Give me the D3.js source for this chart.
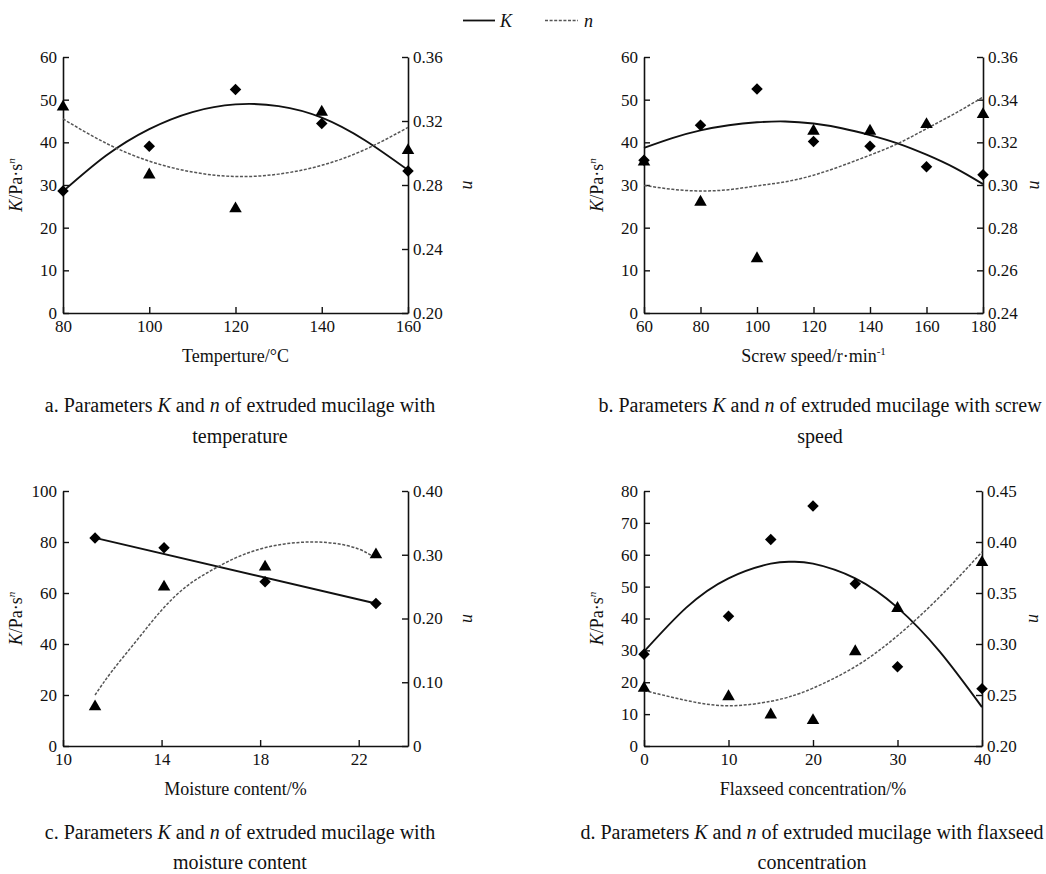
<!DOCTYPE html>
<html><head><meta charset="utf-8">
<script src="https://cdn.jsdelivr.net/npm/d3@7"></script>
<style>
html,body{margin:0;padding:0;background:#fff;}
svg text{font-family:"Liberation Serif","Times New Roman",serif;fill:#111;}
</style></head>
<body><svg id="c" width="1046" height="874"></svg>
<script>
// ---------- Panel a: temperature ----------
const xA = [80, 100, 120, 140, 160];
const kA = [28.6, 39.1, 52.4, 44.4, 33.3];
const nA = [0.3288, 0.2864, 0.2652, 0.3256, 0.3016];
const fitXA = [80, 90, 100, 110, 120, 130, 140, 150, 160];
const kFitA = [28.5, 36.9, 43.1, 47.1, 48.9, 48.5, 45.8, 40.5, 33.5];
const nFitA = [0.3213, 0.3061, 0.2949, 0.2881, 0.2853, 0.2868, 0.2923, 0.3021, 0.3160];
const xTicksA = [80, 100, 120, 140, 160];
const kTicksA = [0, 10, 20, 30, 40, 50, 60];
const nTicksA = ["0.20", "0.24", "0.28", "0.32", "0.36"];

// ---------- Panel b: screw speed ----------
const xB = [60, 80, 100, 120, 140, 160, 180];
const kB = [35.8, 44.0, 52.5, 40.2, 39.1, 34.3, 32.4];
const nB = [0.3108, 0.2920, 0.2655, 0.3253, 0.3253, 0.3284, 0.3331];
const fitXB = [60, 70, 80, 90, 100, 110, 120, 130, 140, 150, 160, 170, 180];
const kFitB = [38.7, 41.0, 42.8, 44.0, 44.7, 44.9, 44.4, 43.3, 41.7, 39.7, 37.1, 34.0, 30.2];
const nFitB = [0.2998, 0.2980, 0.2972, 0.2978, 0.2996, 0.3015, 0.3046, 0.3090, 0.3140, 0.3195, 0.3264, 0.3335, 0.3412];
const xTicksB = [60, 80, 100, 120, 140, 160, 180];
const kTicksB = [0, 10, 20, 30, 40, 50, 60];
const nTicksB = ["0.24", "0.26", "0.28", "0.30", "0.32", "0.34", "0.36"];

// ---------- Panel c: moisture content ----------
const xC = [11.3, 14.1, 18.2, 22.7];
const kC = [81.6, 77.7, 64.4, 55.9];
const nC = [0.0616, 0.2496, 0.2810, 0.3000];
const fitXKC = [11.3, 22.7];
const kFitC = [81.6, 55.9];
const fitXC = [11.3, 12, 13, 14, 15, 16, 17, 18, 19, 20, 21, 22, 22.7];
const nFitC = [0.080, 0.118, 0.166, 0.213, 0.250, 0.275, 0.295, 0.309, 0.317, 0.320, 0.318, 0.309, 0.294];
const xTicksC = [10, 14, 18, 22];
const kTicksC = [0, 20, 40, 60, 80, 100];
const nTicksC = ["0", "0.10", "0.20", "0.30", "0.40"];

// ---------- Panel d: flaxseed concentration ----------
const xD = [0, 10, 15, 20, 25, 30, 40];
const kD = [28.8, 40.7, 64.8, 75.3, 50.9, 24.9, 18.0];
const nD = [0.2567, 0.2485, 0.2306, 0.2250, 0.2926, 0.3350, 0.3800];
const fitXD = [0, 5, 10, 15, 17.5, 20, 25, 30, 35, 40];
const kFitD = [29.6, 43.4, 52.6, 57.2, 57.8, 57.2, 52.6, 43.4, 29.6, 12.2];
const nFitD = [0.2544, 0.2447, 0.2394, 0.2438, 0.2490, 0.2567, 0.2778, 0.3081, 0.3463, 0.3903];
const xTicksD = [0, 10, 20, 30, 40];
const kTicksD = [0, 10, 20, 30, 40, 50, 60, 70, 80];
const nTicksD = ["0.20", "0.25", "0.30", "0.35", "0.40", "0.45"];

const captions = [
  ["a. Parameters ", "K", " and ", "n", " of extruded mucilage with", "temperature"],
  ["b. Parameters ", "K", " and ", "n", " of extruded mucilage with screw", "speed"],
  ["c. Parameters ", "K", " and ", "n", " of extruded mucilage with", "moisture content"],
  ["d. Parameters ", "K", " and ", "n", " of extruded mucilage with flaxseed", "concentration"]
];

const panels = [
  {box:[63,408,57,313], xd:[80,160], kd:[0,60], nd:[0.20,0.36], x:xA, k:kA, n:nA,
   kfx:fitXA, kf:kFitA, nfx:fitXA, nf:nFitA, xt:xTicksA, kt:kTicksA, nt:nTicksA,
   xtitle:["Temperture/°C"], cap:captions[0], cx:240, cy:[412,443], rn:55, linear:false},
  {box:[644,983,57,313], xd:[60,180], kd:[0,60], nd:[0.24,0.36], x:xB, k:kB, n:nB,
   kfx:fitXB, kf:kFitB, nfx:fitXB, nf:nFitB, xt:xTicksB, kt:kTicksB, nt:nTicksB,
   xtitle:["Screw speed/r·min", "-1"], cap:captions[1], cx:820, cy:[412,443], rn:47, linear:false},
  {box:[63,408,491,746], xd:[10,24], kd:[0,100], nd:[0,0.40], x:xC, k:kC, n:nC,
   kfx:fitXKC, kf:kFitC, nfx:fitXC, nf:nFitC, xt:xTicksC, kt:kTicksC, nt:nTicksC,
   xtitle:["Moisture content/%"], cap:captions[2], cx:240, cy:[839,869], rn:55, linear:true},
  {box:[644,982,491,746], xd:[0,40], kd:[0,80], nd:[0.20,0.45], x:xD, k:kD, n:nD,
   kfx:fitXD, kf:kFitD, nfx:fitXD, nf:nFitD, xt:xTicksD, kt:kTicksD, nt:nTicksD,
   xtitle:["Flaxseed concentration/%"], cap:captions[3], cx:812, cy:[839,869], rn:47, linear:false}
];

const svg = d3.select("#c");
svg.append("rect").attr("width",1046).attr("height",874).attr("fill","#fff");

const TICK = 17, TITLE = 18, CAP = 20;
const dashN = "3,1.6";

// legend
const lg = svg.append("g");
lg.append("line").attr("x1",463).attr("x2",495).attr("y1",20.5).attr("y2",20.5).attr("stroke","#111").attr("stroke-width",1.8);
lg.append("text").attr("x",500).attr("y",26.5).attr("font-size",TITLE).attr("font-style","italic").text("K");
lg.append("line").attr("x1",545).attr("x2",578).attr("y1",20.5).attr("y2",20.5).attr("stroke","#555").attr("stroke-width",1.5).attr("stroke-dasharray",dashN);
lg.append("text").attr("x",584).attr("y",26.5).attr("font-size",TITLE).attr("font-style","italic").text("n");

panels.forEach(p => {
  const [L,R,T,B] = p.box;
  const x = d3.scaleLinear().domain(p.xd).range([L,R]);
  const yk = d3.scaleLinear().domain(p.kd).range([B,T]);
  const yn = d3.scaleLinear().domain(p.nd).range([B,T]);
  const g = svg.append("g");

  // axes
  const ax = g.append("g").attr("transform",`translate(0,${B})`)
    .call(d3.axisBottom(x).tickValues(p.xt).tickSizeInner(-6).tickSizeOuter(0).tickPadding(6).tickFormat(d3.format("d")));
  const al = g.append("g").attr("transform",`translate(${L},0)`)
    .call(d3.axisLeft(yk).tickValues(p.kt).tickSizeInner(-6).tickSizeOuter(0).tickPadding(6).tickFormat(d3.format("d")));
  const ar = g.append("g").attr("transform",`translate(${R},0)`)
    .call(d3.axisRight(yn).tickValues(p.nt.map(Number)).tickSizeInner(-6).tickSizeOuter(0).tickPadding(5).tickFormat((d,i)=>p.nt[i]));
  [ax,al,ar].forEach(a => {
    a.select(".domain").attr("stroke","#111").attr("stroke-width",1.6);
    a.selectAll(".tick line").attr("stroke","#111").attr("stroke-width",1.4);
    a.selectAll("text").attr("font-size",TICK).attr("fill","#111").attr("font-family","Liberation Serif, serif");
  });
  ax.selectAll("text").attr("dy","0.75em");

  // axis titles
  const xt = g.append("text").attr("x",(L+R)/2).attr("y",B+49).attr("text-anchor","middle").attr("font-size",TITLE);
  xt.append("tspan").text(p.xtitle[0]);
  if (p.xtitle[1]) xt.append("tspan").attr("dy",-7).attr("font-size",11).text(p.xtitle[1]);

  const lt = g.append("text").attr("transform",`translate(${L-41},${(T+B)/2}) rotate(-90)`).attr("text-anchor","middle").attr("font-size",TITLE);
  lt.append("tspan").attr("font-style","italic").text("K");
  lt.append("tspan").text("/Pa·s");
  lt.append("tspan").attr("dy",-7).attr("font-size",11).attr("font-style","italic").text("n");

  g.append("text").attr("transform",`translate(${R+p.rn},${(T+B)/2}) rotate(90)`).attr("text-anchor","middle")
    .attr("font-size",TITLE).attr("font-style","italic").text("n");

  // fitted curves
  const lk = d3.line().x(d=>x(d[0])).y(d=>yk(d[1])).curve(p.linear ? d3.curveLinear : d3.curveNatural);
  const ln = d3.line().x(d=>x(d[0])).y(d=>yn(d[1])).curve(d3.curveNatural);
  g.append("path").attr("d", lk(d3.zip(p.kfx,p.kf))).attr("fill","none").attr("stroke","#111").attr("stroke-width",1.9);
  g.append("path").attr("d", ln(d3.zip(p.nfx,p.nf))).attr("fill","none").attr("stroke","#555").attr("stroke-width",1.5).attr("stroke-dasharray",dashN);

  // markers
  const dia = d3.symbol().type(d3.symbolSquare).size(66);
  const tri = d3.symbol().type(d3.symbolTriangle).size(68);
  g.selectAll(".dk").data(d3.zip(p.x,p.k)).join("path")
    .attr("transform",d=>`translate(${x(d[0])},${yk(d[1])}) rotate(45)`).attr("d",dia).attr("fill","#000");
  g.selectAll(".tn").data(d3.zip(p.x,p.n)).join("path")
    .attr("transform",d=>`translate(${x(d[0])},${yn(d[1])})`).attr("d",tri).attr("fill","#000");

  // caption
  const c1 = g.append("text").attr("x",p.cx).attr("y",p.cy[0]).attr("text-anchor","middle").attr("font-size",CAP);
  p.cap.slice(0,5).forEach((s,i) => {
    const t = c1.append("tspan").text(s);
    if (i===1 || i===3) t.attr("font-style","italic");
  });
  g.append("text").attr("x",p.cx).attr("y",p.cy[1]).attr("text-anchor","middle").attr("font-size",CAP).text(p.cap[5]);
});
</script></body></html>
